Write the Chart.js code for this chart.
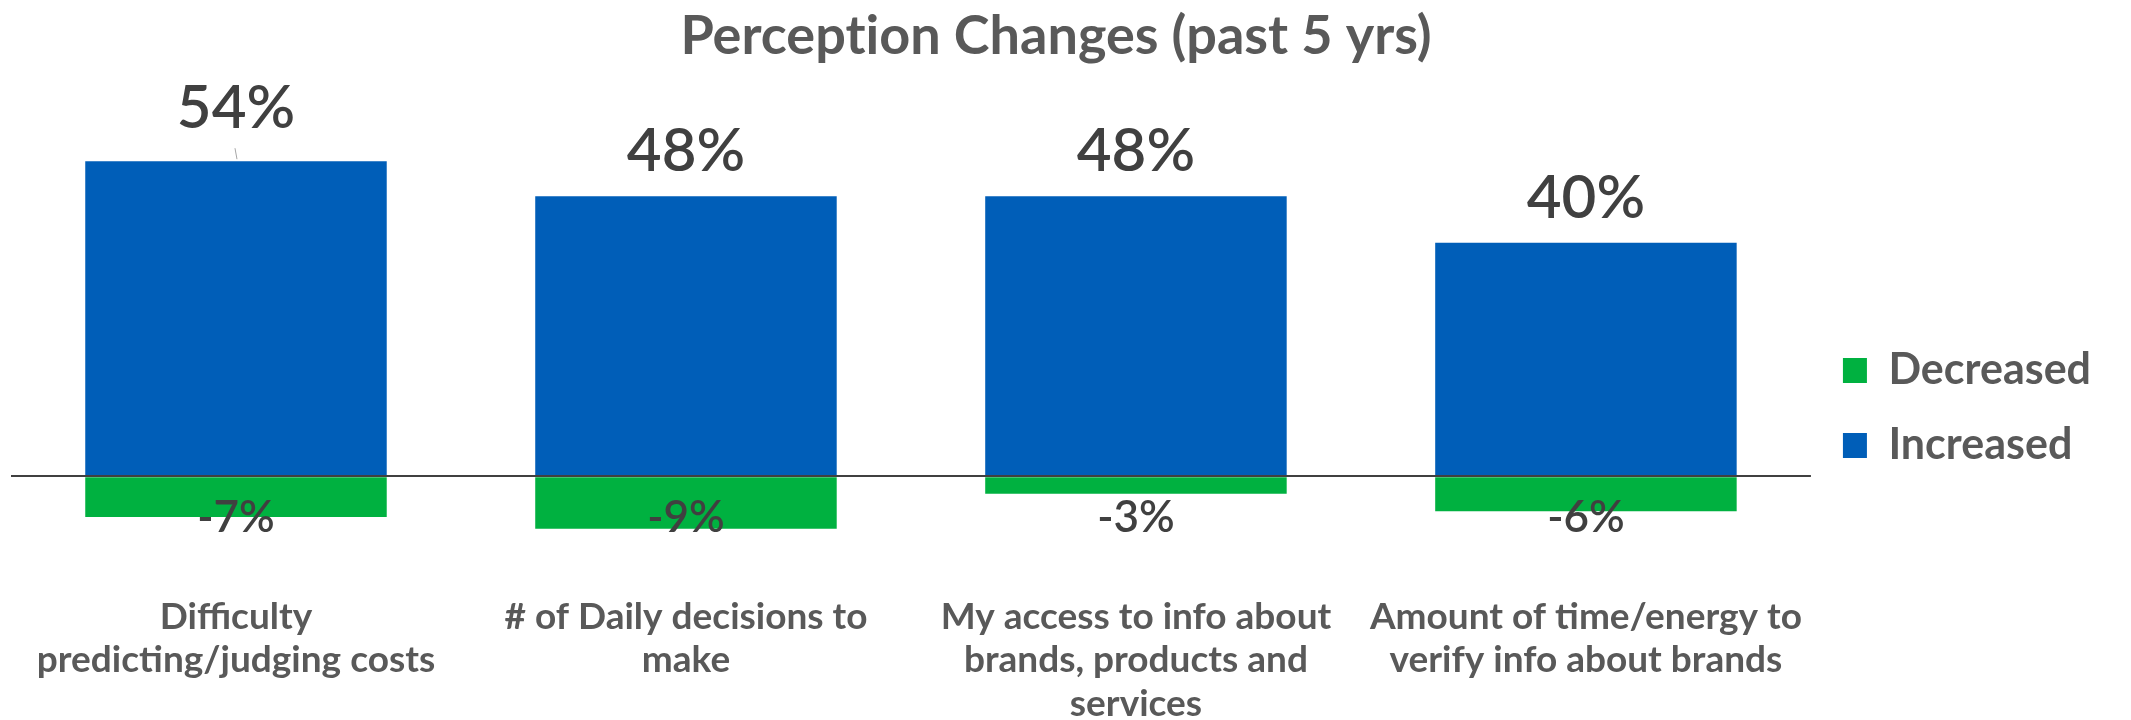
<!DOCTYPE html>
<html>
<head>
<meta charset="utf-8">
<script src="https://cdn.jsdelivr.net/npm/chart.js@4/dist/chart.umd.min.js"></script>
<style>
  body { margin: 0; background: #fff; }
  #wrap { width: 2131px; height: 720px; }
</style>
</head>
<body>
<div id="wrap"><canvas id="chart"></canvas></div>
<script>
// Данные графика
const categories = [
    ['Difficulty', 'predicting/judging costs'],
    ['# of Daily decisions to', 'make'],
    ['My access to info about', 'brands, products and', 'services'],
    ['Amount of time/energy to', 'verify info about brands']
];
const decreased = [-7, -9, -3, -6];
const increased = [54, 48, 48, 40];

// Подписи значений над и под столбцами
const valueLabels = {
    id: 'valueLabels',
    afterDatasetsDraw(chart) {
        const ctx = chart.ctx;
        const zero = chart.scales.y.getPixelForValue(0);
        ctx.save();
        ctx.fillStyle = '#404040';
        ctx.textAlign = 'center';
        ctx.textBaseline = 'alphabetic';

        // Increased
        ctx.font = '600 60px Lato';
        chart.getDatasetMeta(1).data.forEach((bar, i) => {
            let y = bar.y - 25;
            if (i === 0) {
                y -= 8;
                ctx.strokeStyle = '#A6A6A6';
                ctx.lineWidth = 1;
                ctx.beginPath();
                ctx.moveTo(bar.x - 1, y + 20);
                ctx.lineTo(bar.x + 1, bar.y - 2);
                ctx.stroke();
            }
            ctx.fillText(increased[i] + '%', bar.x, y);
        });

        // Decreased
        ctx.font = '600 44px Lato';
        chart.getDatasetMeta(0).data.forEach((bar, i) => {
            ctx.fillText(decreased[i] + '%', bar.x, zero + 56);
        });
        ctx.restore();
    }
};

let canvas = document.querySelector('#chart').getContext('2d');

new Chart(canvas, {
    type: 'bar',
    data: {
        labels: categories,
        datasets: [{
            label: 'Decreased',
            data: decreased,
            backgroundColor: '#00B140',
            categoryPercentage: 1,
            barPercentage: 0.67
        }, {
            label: 'Increased',
            data: increased,
            backgroundColor: '#005EB8',
            categoryPercentage: 1,
            barPercentage: 0.67
        }]
    },
    options: {
        responsive: true,
        maintainAspectRatio: false,
        animation: false,
        layout: {
            padding: { left: 11, right: 30, top: 0, bottom: 0 }
        },
        scales: {
            x: {
                stacked: true,
                grid: { display: false },
                border: { display: false },
                ticks: {
                    color: '#595959',
                    font: { family: 'Lato', size: 37, weight: 'bold', lineHeight: 1.176 },
                    padding: 0,
                    maxRotation: 0,
                    autoSkip: false
                },
                afterFit: (scale) => { scale.height = 133; }
            },
            y: {
                stacked: true,
                min: -19,
                max: 60,
                border: { display: false },
                grid: {
                    z: 1,
                    drawTicks: false,
                    lineWidth: 2,
                    color: (c) => c.tick && c.tick.value === 0 ? '#404040' : 'rgba(0,0,0,0)'
                },
                ticks: { display: false, stepSize: 10 },
                afterFit: (scale) => { scale.width = 0; }
            }
        },
        plugins: {
            title: {
                display: true,
                // \u200C — чтобы не было лигатуры "ti"
                text: 'Percept\u200Cion Changes (past 5 yrs)',
                color: '#595959',
                font: { family: 'Lato', size: 54, weight: 'bold', lineHeight: 1.2 },
                padding: { top: 4, bottom: 57.4 }
            },
            legend: {
                position: 'right',
                title: {
                    display: true,
                    text: '',
                    font: { size: 10, lineHeight: 1 },
                    padding: { top: 86, bottom: 0 }
                },
                labels: {
                    color: '#595959',
                    font: { family: 'Lato', size: 43, weight: 'bold' },
                    boxWidth: 24,
                    boxHeight: 25,
                    padding: 32
                }
            },
            tooltip: { enabled: false }
        }
    },
    plugins: [valueLabels]
});
</script>
</body>
</html>
